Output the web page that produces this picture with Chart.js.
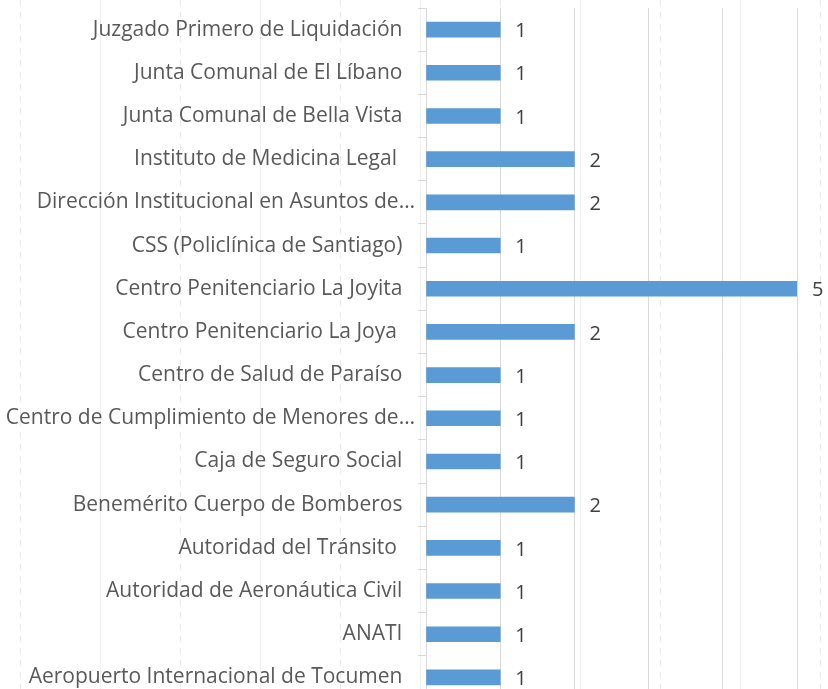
<!DOCTYPE html>
<html lang="es">
<head>
  <meta charset="UTF-8">
  <title>Instituciones</title>
  <script src="https://cdn.jsdelivr.net/npm/chart.js@4.4.1/dist/chart.umd.min.js"></script>
  <style>
    html, body {
      margin: 0;
      padding: 0;
      overflow: hidden;
      background-color: #ffffff;
    }
    /* faint page guide lines behind the chart */
    body {
      background-image: url("data:image/svg+xml;utf8,<svg xmlns='http://www.w3.org/2000/svg' width='160' height='12'><rect x='100' y='0' width='1' height='12' fill='%23efefef'/><rect x='20' y='0' width='1' height='6' fill='%23ebebeb'/></svg>");
      background-size: 160px 12px;
    }
    #wrap {
      position: relative;
      width: 828px;
      height: 700px;
    }
  </style>
</head>
<body>
  <div id="wrap">
    <canvas id="barChart"></canvas>
  </div>

  <script>
    const categories = [
      "Juzgado Primero de Liquidación",
      "Junta Comunal de El Líbano",
      "Junta Comunal de Bella Vista",
      "Instituto de Medicina Legal ",
      "Dirección Institucional en Asuntos de…",
      "CSS (Policlínica de Santiago)",
      "Centro Penitenciario La Joyita",
      "Centro Penitenciario La Joya ",
      "Centro de Salud de Paraíso",
      "Centro de Cumplimiento de Menores de…",
      "Caja de Seguro Social",
      "Benemérito Cuerpo de Bomberos",
      "Autoridad del Tránsito ",
      "Autoridad de Aeronáutica Civil",
      "ANATI",
      "Aeropuerto Internacional de Tocumen"
    ];
    const counts = [1, 1, 1, 2, 2, 1, 5, 2, 1, 1, 1, 2, 1, 1, 1, 1];
    const xTicks = [0, 1, 2, 3, 4, 5];

    const FONT = "'Open Sans', 'Liberation Sans', sans-serif";

    // numbers written after each bar
    const valueLabels = {
      id: "valueLabels",
      afterDatasetsDraw(chart) {
        const ctx = chart.ctx;
        const meta = chart.getDatasetMeta(0);
        ctx.save();
        ctx.font = "20px " + FONT;
        ctx.fillStyle = "#404040";
        ctx.textAlign = "left";
        ctx.textBaseline = "middle";
        meta.data.forEach((bar, i) => {
          ctx.fillText(String(counts[i]), bar.x + 15, bar.y + 2);
        });
        ctx.restore();
      }
    };

    const ctx = document.getElementById("barChart").getContext("2d");

    new Chart(ctx, {
      type: "bar",
      data: {
        labels: categories,
        datasets: [{
          data: counts,
          backgroundColor: "#5b9bd5",
          borderWidth: 0,
          barThickness: 15
        }]
      },
      plugins: [valueLabels],
      options: {
        indexAxis: "y",
        responsive: true,
        maintainAspectRatio: false,
        animation: false,
        layout: {
          padding: { top: 8, right: 31, bottom: 1, left: 0 }
        },
        plugins: {
          legend: { display: false },
          tooltip: { enabled: false }
        },
        scales: {
          x: {
            min: xTicks[0],
            max: xTicks[xTicks.length - 1],
            afterBuildTicks(scale) {
              scale.ticks = xTicks.map(v => ({ value: v }));
            },
            ticks: { display: false },
            grid: {
              color: "#d9d9d9",
              lineWidth: 1,
              drawTicks: false
            },
            border: { display: false }
          },
          y: {
            afterFit(scale) {
              scale.width = 426;
              scale.paddingTop = 0;
              scale.paddingBottom = 0;
            },
            ticks: {
              color: "#595959",
              font: { family: FONT, size: 21 },
              padding: 3,
              autoSkip: false,
              // truncated labels run closer to the axis, like Excel does
              callback(value) {
                const label = this.getLabelForValue(value);
                return label.endsWith("…") ? label : label + "\u2002\u200A";
              }
            },
            grid: {
              offset: true,
              drawOnChartArea: false,
              color: "#d9d9d9",
              tickLength: 8
            },
            border: { color: "#d9d9d9" }
          }
        }
      }
    });
  </script>
</body>
</html>
